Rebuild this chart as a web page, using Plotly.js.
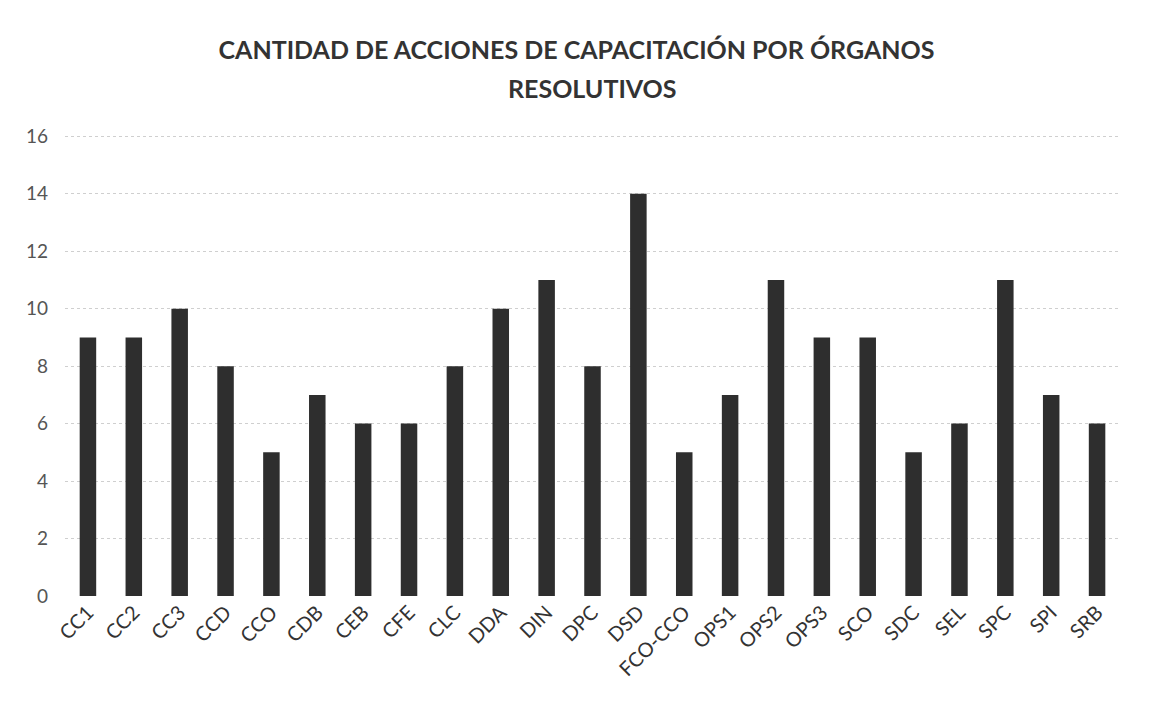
<!DOCTYPE html>
<html>
<head>
<meta charset="utf-8">
<script src="https://cdn.plot.ly/plotly-3.0.1.min.js"></script>
<style>html,body{margin:0;padding:0;background:#fff;}#chart{width:1153px;height:711px;}</style>
</head>
<body>
<div id="chart"></div>
<script>
const categories = ["CC1","CC2","CC3","CCD","CCO","CDB","CEB","CFE","CLC","DDA","DIN","DPC","DSD","FCO-CCO","OPS1","OPS2","OPS3","SCO","SDC","SEL","SPC","SPI","SRB"];
const values = [9,9,10,8,5,7,6,6,8,10,11,8,14,5,7,11,9,9,5,6,11,7,6];
const yTicks = [0,2,4,6,8,10,12,14,16];
const titleLine1 = "CANTIDAD DE ACCIONES DE CAPACITACIÓN POR ÓRGANOS";
const titleLine2 = "RESOLUTIVOS";
const titleFont = {family: "Lato, 'Open Sans', sans-serif", size: 25, color: "#333", weight: "bold"};

Plotly.newPlot("chart", [{
  type: "bar",
  x: categories,
  y: values,
  marker: {color: "#2e2e2e"},
  hoverinfo: "x+y"
}], {
  width: 1153, height: 711,
  margin: {l: 65, r: 33, t: 134, b: 115},
  paper_bgcolor: "#fff", plot_bgcolor: "#fff",
  bargap: 0.64,
  title: {text: titleLine1, x: 0.5, xanchor: "center", y: 1 - 50/711, yanchor: "middle", font: titleFont},
  annotations: [{text: titleLine2, xref: "paper", yref: "paper", x: 0.5, xanchor: "center",
                 y: 1 + (134 - 88) / (711 - 134 - 115), yanchor: "middle", showarrow: false, font: titleFont}],
  xaxis: {tickangle: -45, tickfont: {family: "Lato, 'Open Sans', sans-serif", size: 20, color: "#333"},
          showline: false, ticks: "", showgrid: false},
  yaxis: {range: [0, 16.08], tickvals: yTicks, tickfont: {family: "Lato, 'Open Sans', sans-serif", size: 19, color: "#555"},
          ticklabelstandoff: 16,
          gridcolor: "#cfcfcf", griddash: "dot", gridwidth: 1, zeroline: false, ticks: "", ticklen: 0, showline: false},
  showlegend: false
}, {displayModeBar: false, staticPlot: true});
</script>
</body>
</html>
